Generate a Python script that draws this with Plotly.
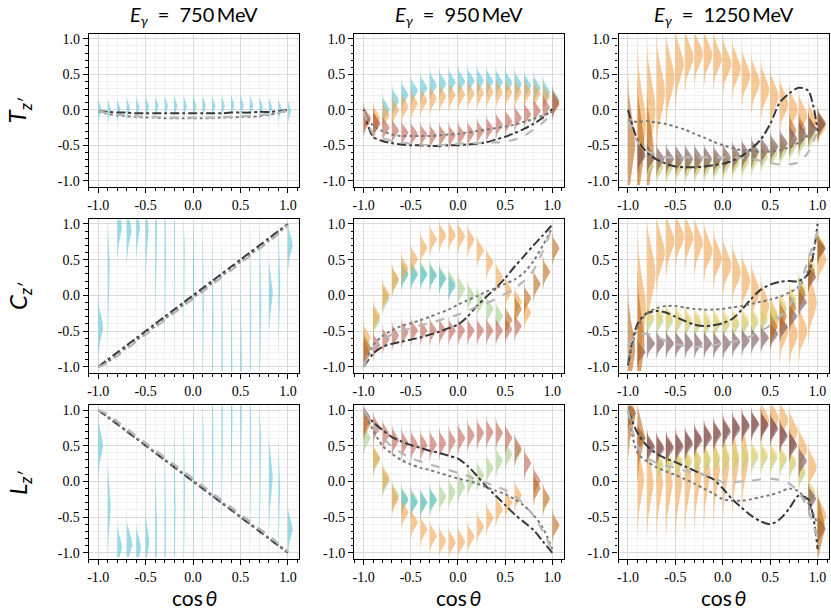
import numpy as np
import plotly.graph_objects as go

# ---------------- data ----------------
COS_THETA = [-1.0, -0.9, -0.8, -0.7, -0.6, -0.5, -0.4, -0.3, -0.2, -0.1, 0.0,
             0.1, 0.2, 0.3, 0.4, 0.5, 0.6, 0.7, 0.8, 0.9, 1.0]
TICK_VALS = [-1.0, -0.5, 0.0, 0.5, 1.0]
TICK_TEXT = ["-1.0", "-0.5", "0.0", "0.5", "1.0"]
ENERGIES = ["750", "950", "1250"]
OBSERVABLES = ["T", "C", "L"]
N = None

# ---- T_z' ----
T750_CYAN = [0.0, -0.01, 0.0, 0.02, 0.03, 0.04, 0.05, 0.05, 0.05, 0.05, 0.05, 0.05, 0.05, 0.05, 0.06, 0.06, 0.05, 0.04, 0.02, 0.0, -0.02]
T750_DASHDOT = [-0.02, -0.03, -0.04, -0.04, -0.05, -0.05, -0.05, -0.05, -0.05, -0.05, -0.05, -0.05, -0.05, -0.05, -0.04, -0.04, -0.04, -0.03, -0.03, -0.02, 0.0]
T750_DOTTED = [-0.02, -0.06, -0.08, -0.09, -0.1, -0.11, -0.11, -0.12, -0.12, -0.12, -0.12, -0.12, -0.12, -0.11, -0.11, -0.1, -0.1, -0.09, -0.07, -0.05, -0.01]
T750_DASHED = [-0.02, -0.05, -0.07, -0.08, -0.09, -0.1, -0.1, -0.11, -0.11, -0.11, -0.11, -0.11, -0.11, -0.1, -0.1, -0.09, -0.09, -0.08, -0.06, -0.04, -0.01]

T950_CYAN = [N, N, 0.0, 0.12, 0.2, 0.26, 0.3, 0.34, 0.36, 0.38, 0.39, 0.4, 0.4, 0.39, 0.38, 0.37, 0.35, 0.33, 0.3, 0.24, 0.12]
T950_ORANGE = [N, -0.12, -0.08, -0.01, 0.04, 0.08, 0.12, 0.15, 0.18, 0.2, 0.21, 0.22, 0.23, 0.24, 0.24, 0.24, 0.24, 0.24, 0.22, 0.18, N]
T950_DARKORANGE = [-0.15, -0.2, N, N, N, N, N, N, N, N, N, N, N, N, N, N, N, N, N, N, 0.1]
T950_RED = [-0.12, -0.2, -0.26, -0.3, -0.33, -0.35, -0.36, -0.37, -0.37, -0.37, -0.36, -0.34, -0.31, -0.27, -0.22, -0.17, -0.12, -0.07, -0.02, 0.03, 0.07]
T950_DASHDOT = [0.0, -0.38, -0.44, -0.47, -0.49, -0.5, -0.5, -0.51, -0.51, -0.5, -0.5, -0.49, -0.48, -0.46, -0.42, -0.38, -0.33, -0.27, -0.2, -0.11, 0.01]
T950_DOTTED = [-0.05, -0.22, -0.3, -0.35, -0.37, -0.37, -0.37, -0.37, -0.36, -0.35, -0.34, -0.32, -0.3, -0.28, -0.26, -0.24, -0.21, -0.17, -0.13, -0.08, -0.03]
T950_DASHED = [-0.02, -0.33, -0.4, -0.44, -0.46, -0.48, -0.49, -0.5, -0.5, -0.49, -0.48, -0.47, -0.47, -0.46, -0.46, -0.45, -0.42, -0.37, -0.28, -0.18, -0.05]

T1250_ORANGE = [N, -0.2, 0.0, 0.25, 0.45, 0.63, 0.74, 0.78, 0.77, 0.72, 0.65, 0.58, 0.48, 0.38, 0.28, 0.18, 0.08, 0.0, -0.08, -0.15, -0.22]
T1250_ORANGE_SPREAD = [0.4, 0.4, 0.35, 0.3, 0.25, 0.2, 0.17, 0.15, 0.15, 0.15, 0.15, 0.15, 0.15, 0.15, 0.15, 0.15, 0.14, 0.13, 0.12, 0.1, 0.1]
T1250_DARKORANGE = [-0.5, -0.55, -0.6, N, N, N, N, N, N, N, N, N, N, N, N, N, N, -0.3, -0.28, -0.25, -0.22]
T1250_DARKORANGE_SPREAD = [0.35, 0.35, 0.3, 0.1, 0.1, 0.1, 0.1, 0.1, 0.1, 0.1, 0.1, 0.1, 0.1, 0.1, 0.1, 0.1, 0.1, 0.09, 0.09, 0.08, 0.08]
T1250_PURPLE = [N, -0.65, -0.68, -0.7, -0.7, -0.7, -0.7, -0.7, -0.7, -0.7, -0.68, -0.66, -0.63, -0.6, -0.57, -0.53, -0.48, -0.42, -0.36, -0.28, -0.2]
T1250_YELLOW = [N, N, -0.75, -0.78, -0.78, -0.78, -0.78, -0.78, -0.77, -0.76, -0.74, -0.72, -0.7, -0.67, -0.63, -0.59, -0.54, -0.48, -0.42, -0.34, N]
T1250_GREEN = [N, N, -0.8, -0.82, -0.82, -0.82, -0.82, -0.82, -0.81, -0.8, -0.78, -0.76, -0.74, -0.71, -0.67, -0.63, -0.58, -0.52, -0.46, -0.38, N]
T1250_DASHDOT = [0.0, -0.42, -0.6, -0.7, -0.76, -0.8, -0.81, -0.81, -0.8, -0.78, -0.76, -0.72, -0.65, -0.55, -0.42, -0.2, 0.1, 0.23, 0.31, 0.27, -0.3]
T1250_DOTTED = [-0.15, -0.17, -0.16, -0.18, -0.2, -0.24, -0.28, -0.34, -0.39, -0.45, -0.5, -0.54, -0.57, -0.58, -0.59, -0.59, -0.57, -0.53, -0.46, -0.36, -0.22]
T1250_DASHED = [-0.15, -0.45, -0.58, -0.64, -0.67, -0.67, -0.67, -0.67, -0.67, -0.67, -0.67, -0.67, -0.68, -0.69, -0.72, -0.75, -0.77, -0.77, -0.74, -0.6, -0.3]

# ---- C_z' ----
C750_CYAN = [-0.45, 0.35, 0.95, 0.9, 0.95, 0.9, 0.85, 0.7, 0.5, 0.3, 0.0, -0.3, -0.5, -0.8, -0.9, -0.95, -0.5, -0.3, 0.02, 0.1, 0.7]
C750_CYAN_SPREAD = [0.15, 0.35, 0.15, 0.15, 0.15, 0.2, 0.4, 0.5, 0.5, 0.5, 0.5, 0.5, 0.5, 0.5, 0.4, 0.4, 0.5, 0.5, 0.2, 0.3, 0.12]
C750_CYAN_PEAK = [0.05, 0.02, 0.05, 0.05, 0.04, 0.03, 0.02, 0.015, 0.015, 0.015, 0.015, 0.015, 0.015, 0.015, 0.015, 0.015, 0.015, 0.02, 0.04, 0.02, 0.05]
C750_DASHDOT = [-1.0, -0.9, -0.8, -0.7, -0.6, -0.5, -0.4, -0.3, -0.2, -0.1, 0.0, 0.1, 0.2, 0.3, 0.4, 0.5, 0.6, 0.7, 0.8, 0.9, 1.0]
C750_DOTTED = [-1.0, -0.93, -0.83, -0.73, -0.63, -0.53, -0.43, -0.33, -0.23, -0.13, -0.03, 0.07, 0.17, 0.27, 0.37, 0.47, 0.57, 0.67, 0.77, 0.88, 0.99]
C750_DASHED = [-1.0, -0.95, -0.85, -0.75, -0.65, -0.55, -0.45, -0.35, -0.25, -0.15, -0.05, 0.05, 0.15, 0.25, 0.35, 0.45, 0.55, 0.65, 0.75, 0.86, 0.98]

C950_ORANGE = [-0.6, -0.3, 0.0, 0.22, 0.37, 0.5, 0.66, 0.78, 0.83, 0.84, 0.82, 0.77, 0.62, 0.45, 0.25, 0.05, -0.1, -0.25, N, N, N]
C950_GREEN = [-0.7, -0.35, -0.05, 0.2, 0.3, 0.3, 0.3, 0.28, 0.24, 0.17, 0.08, -0.01, -0.1, -0.2, -0.3, N, N, N, N, N, N]
C950_CYAN = [N, N, N, N, 0.28, 0.28, 0.28, 0.27, 0.22, 0.12, N, N, N, N, N, N, N, N, N, N, N]
C950_RED = [-0.82, -0.7, -0.62, -0.57, -0.53, -0.5, -0.5, -0.5, -0.5, -0.5, -0.5, -0.5, -0.5, -0.5, -0.5, -0.48, -0.44, N, N, N, N]
C950_DARKORANGE = [-0.75, N, N, N, N, N, N, N, N, N, N, N, N, N, N, -0.35, -0.2, -0.05, 0.15, 0.32, 0.65]
C950_DASHDOT = [-1.0, -0.82, -0.72, -0.68, -0.65, -0.62, -0.59, -0.55, -0.51, -0.46, -0.41, -0.3, -0.15, -0.02, 0.1, 0.24, 0.4, 0.55, 0.7, 0.84, 0.99]
C950_DOTTED = [-1.0, -0.7, -0.57, -0.49, -0.43, -0.39, -0.35, -0.3, -0.25, -0.2, -0.13, -0.07, -0.01, 0.05, 0.1, 0.16, 0.22, 0.32, 0.48, 0.7, 0.95]
C950_DASHED = [-1.0, -0.74, -0.62, -0.55, -0.5, -0.46, -0.42, -0.39, -0.35, -0.31, -0.27, -0.22, -0.16, -0.11, -0.05, 0.02, 0.1, 0.2, 0.35, 0.62, 0.95]

C1250_ORANGE = [N, -0.2, 0.3, 0.6, 0.75, 0.82, 0.8, 0.72, 0.62, 0.52, 0.42, 0.32, 0.2, 0.05, -0.15, -0.35, -0.5, -0.55, -0.5, -0.1, 0.5]
C1250_ORANGE_SPREAD = [0.4, 0.4, 0.3, 0.2, 0.17, 0.15, 0.15, 0.15, 0.15, 0.15, 0.15, 0.15, 0.15, 0.15, 0.15, 0.15, 0.15, 0.15, 0.15, 0.2, 0.12]
C1250_YELLOW = [N, N, -0.3, -0.3, -0.32, -0.33, -0.35, -0.36, -0.37, -0.37, -0.37, -0.37, -0.36, -0.34, -0.3, -0.25, -0.15, -0.05, 0.1, 0.4, 0.7]
C1250_GREEN = [N, N, -0.35, -0.36, -0.37, -0.38, -0.4, -0.41, -0.42, -0.42, -0.42, -0.42, -0.41, -0.39, -0.35, -0.3, -0.2, -0.1, 0.05, 0.35, 0.68]
C1250_PURPLE = [N, -0.8, -0.68, -0.68, -0.68, -0.68, -0.68, -0.68, -0.68, -0.68, -0.68, -0.66, -0.64, -0.62, -0.6, -0.55, -0.45, -0.3, -0.1, 0.25, 0.65]
C1250_DARKORANGE = [-0.75, -0.65, N, N, N, N, N, N, N, N, N, N, N, N, N, -0.45, -0.3, -0.18, 0.0, 0.3, 0.65]
C1250_DARKORANGE_SPREAD = [0.3, 0.35, 0.1, 0.1, 0.1, 0.1, 0.1, 0.1, 0.1, 0.1, 0.1, 0.1, 0.1, 0.1, 0.1, 0.09, 0.09, 0.09, 0.09, 0.09, 0.08]
C1250_DASHDOT = [-0.98, -0.4, -0.25, -0.22, -0.24, -0.3, -0.36, -0.41, -0.43, -0.42, -0.39, -0.33, -0.2, -0.05, 0.08, 0.15, 0.19, 0.2, 0.2, 0.3, 1.0]
C1250_DOTTED = [-0.96, -0.45, -0.25, -0.18, -0.15, -0.15, -0.17, -0.19, -0.2, -0.2, -0.19, -0.17, -0.15, -0.12, -0.09, -0.06, -0.02, 0.04, 0.12, 0.35, 0.9]
C1250_DASHED = [-0.7, -0.56, -0.54, -0.58, -0.64, -0.68, -0.71, -0.72, -0.72, -0.7, -0.67, -0.65, -0.62, -0.57, -0.5, -0.42, -0.3, -0.15, 0.1, 0.5, 0.9]

# ---- L_z' ----
L750_CYAN = [0.5, -0.35, -0.92, -0.88, -0.93, -0.85, -0.8, -0.7, -0.5, -0.3, 0.0, 0.3, 0.5, 0.8, 0.9, 0.95, 0.5, 0.3, 0.03, -0.25, -0.67]
L750_CYAN_SPREAD = [0.15, 0.25, 0.12, 0.13, 0.12, 0.15, 0.4, 0.5, 0.5, 0.5, 0.5, 0.5, 0.5, 0.5, 0.4, 0.4, 0.5, 0.5, 0.25, 0.3, 0.12]
L750_CYAN_PEAK = [0.05, 0.03, 0.05, 0.06, 0.05, 0.04, 0.02, 0.015, 0.015, 0.015, 0.015, 0.015, 0.015, 0.015, 0.015, 0.015, 0.015, 0.02, 0.04, 0.02, 0.05]
L750_DASHDOT = [1.0, 0.9, 0.8, 0.7, 0.6, 0.5, 0.4, 0.3, 0.2, 0.1, 0.0, -0.1, -0.2, -0.3, -0.4, -0.5, -0.6, -0.7, -0.8, -0.9, -1.0]
L750_DOTTED = [1.0, 0.91, 0.81, 0.71, 0.61, 0.51, 0.41, 0.31, 0.21, 0.11, 0.01, -0.09, -0.19, -0.29, -0.39, -0.49, -0.59, -0.69, -0.79, -0.89, -0.99]
L750_DASHED = [1.0, 0.94, 0.84, 0.74, 0.64, 0.54, 0.44, 0.34, 0.24, 0.14, 0.04, -0.06, -0.16, -0.26, -0.36, -0.46, -0.56, -0.66, -0.76, -0.87, -0.98]

L950_RED = [0.87, 0.75, 0.65, 0.57, 0.53, 0.51, 0.5, 0.51, 0.53, 0.56, 0.6, 0.64, 0.67, 0.68, 0.67, 0.6, 0.45, 0.25, 0.0, N, N]
L950_DARKORANGE = [0.8, N, N, N, N, N, N, N, N, N, N, N, N, N, N, N, N, N, -0.1, -0.25, -0.62]
L950_ORANGE = [N, 0.32, 0.04, -0.25, -0.44, -0.58, -0.68, -0.77, -0.84, -0.86, -0.85, -0.78, -0.64, -0.52, -0.4, -0.3, -0.2, N, N, N, N]
L950_GREEN = [0.6, 0.3, 0.0, -0.2, -0.25, -0.28, -0.3, -0.27, -0.22, -0.16, -0.08, 0.0, 0.08, 0.18, 0.28, 0.37, 0.42, N, N, N, N]
L950_CYAN = [N, N, N, N, -0.27, -0.3, -0.3, -0.26, N, N, N, N, N, N, N, N, N, N, N, N, N]
L950_DASHDOT = [1.0, 0.83, 0.72, 0.62, 0.56, 0.51, 0.47, 0.43, 0.4, 0.36, 0.32, 0.22, 0.08, -0.07, -0.2, -0.33, -0.46, -0.57, -0.68, -0.84, -1.0]
L950_DOTTED = [1.0, 0.72, 0.5, 0.39, 0.3, 0.24, 0.19, 0.16, 0.12, 0.08, 0.04, 0.01, -0.03, -0.08, -0.13, -0.18, -0.25, -0.34, -0.47, -0.65, -0.95]
L950_DASHED = [1.0, 0.8, 0.62, 0.49, 0.4, 0.33, 0.28, 0.24, 0.2, 0.16, 0.12, 0.08, 0.03, -0.02, -0.07, -0.12, -0.2, -0.32, -0.48, -0.7, -0.97]

L1250_PURPLE = [0.95, 0.6, 0.47, 0.45, 0.46, 0.48, 0.52, 0.57, 0.61, 0.65, 0.69, 0.73, 0.77, 0.79, 0.78, 0.73, 0.63, 0.5, 0.28, -0.25, -0.67]
L1250_RED = [N, N, 0.5, 0.48, 0.49, 0.51, 0.55, 0.6, 0.64, 0.68, 0.72, 0.76, 0.79, 0.81, 0.8, 0.75, 0.65, 0.52, N, N, N]
L1250_ORANGE_HI = [N, N, N, N, N, N, N, N, N, N, N, N, N, N, 0.85, 0.88, 0.85, 0.7, 0.45, 0.2, -0.48]
L1250_ORANGE_LO = [N, 0.0, -0.05, -0.05, -0.05, -0.05, 0.0, 0.05, 0.1, 0.15, 0.2, 0.25, 0.3, N, N, N, N, N, N, N, N]
L1250_YELLOW = [N, N, N, 0.25, 0.27, 0.29, 0.3, 0.32, 0.33, 0.34, 0.35, 0.36, 0.37, 0.37, 0.37, 0.36, 0.33, 0.28, 0.15, -0.15, -0.55]
L1250_GREEN = [N, N, N, 0.21, 0.23, 0.25, 0.26, 0.28, 0.29, 0.3, 0.31, 0.32, 0.33, 0.33, 0.33, 0.32, 0.29, 0.24, 0.11, -0.19, -0.6]
L1250_DARKORANGE = [0.9, 0.6, N, N, N, N, N, N, N, N, N, N, N, N, N, N, N, N, N, N, -0.65]
L1250_DASHDOT = [1.0, 0.68, 0.5, 0.39, 0.32, 0.27, 0.21, 0.15, 0.09, 0.03, -0.1, -0.25, -0.37, -0.48, -0.56, -0.6, -0.53, -0.38, -0.2, -0.25, -0.95]
L1250_DOTTED = [1.0, 0.4, 0.28, 0.2, 0.14, 0.09, 0.03, -0.03, -0.1, -0.17, -0.25, -0.27, -0.27, -0.25, -0.22, -0.19, -0.15, -0.1, -0.14, -0.3, -0.6]
L1250_DASHED = [1.0, 0.5, 0.33, 0.26, 0.22, 0.19, 0.15, 0.12, 0.1, 0.05, -0.01, -0.01, 0.0, 0.01, 0.03, 0.04, 0.02, -0.03, -0.15, -0.4, -0.8]

# ---------------- styling ----------------
COLORS = {
    "cyan": "rgba(88,196,216,0.6)",
    "orange": "rgba(240,165,80,0.6)",
    "darkorange": "rgba(190,105,25,0.6)",
    "red": "rgba(190,100,85,0.6)",
    "purple": "rgba(115,80,85,0.6)",
    "yellow": "rgba(242,212,115,0.6)",
    "green": "rgba(160,200,130,0.55)",
}
DEFAULT_PEAK = 0.075

PANELS = {
    (0, 0): [("cyan", T750_CYAN, 0.06, 0.035)],
    (0, 1): [("cyan", T950_CYAN, 0.08, None), ("orange", T950_ORANGE, 0.08, None),
             ("darkorange", T950_DARKORANGE, 0.08, None), ("red", T950_RED, 0.07, None)],
    (0, 2): [("orange", T1250_ORANGE, T1250_ORANGE_SPREAD, 0.09),
             ("darkorange", T1250_DARKORANGE, T1250_DARKORANGE_SPREAD, None),
             ("green", T1250_GREEN, 0.08, None), ("yellow", T1250_YELLOW, 0.08, None),
             ("purple", T1250_PURPLE, 0.08, 0.085)],
    (1, 0): [("cyan", C750_CYAN, C750_CYAN_SPREAD, C750_CYAN_PEAK)],
    (1, 1): [("green", C950_GREEN, 0.08, None), ("cyan", C950_CYAN, 0.07, None),
             ("orange", C950_ORANGE, 0.08, None), ("red", C950_RED, 0.07, None),
             ("darkorange", C950_DARKORANGE, 0.08, None)],
    (1, 2): [("orange", C1250_ORANGE, C1250_ORANGE_SPREAD, 0.09),
             ("green", C1250_GREEN, 0.08, None), ("yellow", C1250_YELLOW, 0.08, None),
             ("purple", C1250_PURPLE, 0.07, 0.085),
             ("darkorange", C1250_DARKORANGE, C1250_DARKORANGE_SPREAD, None)],
    (2, 0): [("cyan", L750_CYAN, L750_CYAN_SPREAD, L750_CYAN_PEAK)],
    (2, 1): [("green", L950_GREEN, 0.08, None), ("cyan", L950_CYAN, 0.07, None),
             ("orange", L950_ORANGE, 0.08, None), ("red", L950_RED, 0.08, None),
             ("darkorange", L950_DARKORANGE, 0.08, None)],
    (2, 2): [("orange", L1250_ORANGE_LO, 0.25, 0.07), ("orange", L1250_ORANGE_HI, 0.12, 0.09),
             ("green", L1250_GREEN, 0.08, None), ("yellow", L1250_YELLOW, 0.08, None),
             ("red", L1250_RED, 0.08, None), ("purple", L1250_PURPLE, 0.08, 0.085),
             ("darkorange", L1250_DARKORANGE, 0.2, None)],
}
LINES = {
    (0, 0): (T750_DASHDOT, T750_DOTTED, T750_DASHED),
    (0, 1): (T950_DASHDOT, T950_DOTTED, T950_DASHED),
    (0, 2): (T1250_DASHDOT, T1250_DOTTED, T1250_DASHED),
    (1, 0): (C750_DASHDOT, C750_DOTTED, C750_DASHED),
    (1, 1): (C950_DASHDOT, C950_DOTTED, C950_DASHED),
    (1, 2): (C1250_DASHDOT, C1250_DOTTED, C1250_DASHED),
    (2, 0): (L750_DASHDOT, L750_DOTTED, L750_DASHED),
    (2, 1): (L950_DASHDOT, L950_DOTTED, L950_DASHED),
    (2, 2): (L1250_DASHDOT, L1250_DOTTED, L1250_DASHED),
}
LINE_STYLES = [("#383838", "dashdot", 2.0), ("#7a7a7a", "dot", 2.0), ("#b8b8b8", "dash", 2.2)]

W, H = 831, 609
PX_COLS = [(87, 298), (353, 563), (618, 829)]
PX_ROWS = [(32, 186), (218, 373), (405, 560)]
X_DOMAINS = [[a / W, b / W] for a, b in PX_COLS]
Y_DOMAINS = [[1 - b / H, 1 - a / H] for a, b in PX_ROWS]


def as_list(v, n):
    return list(v) if isinstance(v, (list, tuple)) else [v] * n


def violin_path(xs, means, spread, peak):
    n = len(xs)
    sp = as_list(spread, n)
    pk = as_list(DEFAULT_PEAK if peak is None else peak, n)
    px, py = [], []
    for x0, mu, s, w in zip(xs, means, sp, pk):
        if mu is None:
            continue
        y = np.linspace(max(mu - 3 * s, -1.06), min(mu + 3 * s, 1.06), 45)
        prof = x0 + w * np.exp(-0.5 * ((y - mu) / s) ** 2)
        px += [x0] + list(prof) + [x0, None]
        py += [float(y[0])] + list(y) + [float(y[-1]), None]
    return px, py


TICKFONT = dict(family="Liberation Serif", size=14, color="black")
THIN = "\u2009"

fig = go.Figure()
layout = {}
for r in range(3):
    for c in range(3):
        idx = r * 3 + c + 1
        sfx = "" if idx == 1 else str(idx)
        xref, yref = "x" + sfx, "y" + sfx
        for col, means, spread, peak in PANELS[(r, c)]:
            px, py = violin_path(COS_THETA, means, spread, peak)
            fig.add_trace(go.Scatter(x=px, y=py, mode="lines", fill="toself",
                                     fillcolor=COLORS[col], line=dict(width=0),
                                     hoverinfo="skip", showlegend=False,
                                     xaxis=xref, yaxis=yref))
        for vals, (lc, dash, lw) in zip(LINES[(r, c)], LINE_STYLES):
            fig.add_trace(go.Scatter(x=COS_THETA, y=vals, mode="lines",
                                     line=dict(color=lc, dash=dash, width=lw, shape="spline", smoothing=0.8),
                                     showlegend=False, xaxis=xref, yaxis=yref))
        common = dict(tickmode="array", tickvals=TICK_VALS, ticktext=TICK_TEXT, ticks="outside",
                      ticklen=5, tickwidth=1, tickcolor="black", showline=True, linecolor="black",
                      linewidth=1.2, mirror=True, showgrid=True, gridcolor="#dadada",
                      gridwidth=1, zeroline=False,
                      minor=dict(ticks="outside", ticklen=2.5, tickcolor="black", tick0=0,
                                 dtick=0.1, showgrid=True, gridcolor="#f1f1f1", gridwidth=1),
                      tickfont=TICKFONT)
        layout["xaxis" + sfx] = dict(domain=X_DOMAINS[c], anchor=yref, range=[-1.1, 1.12], **common)
        layout["yaxis" + sfx] = dict(domain=Y_DOMAINS[r], anchor=xref, range=[-1.09, 1.07], **common)

annotations = []
for c, e in enumerate(ENERGIES):
    xc = sum(X_DOMAINS[c]) / 2
    annotations.append(dict(text=f"<i>E</i><sub><i>γ</i></sub>\u2002=\u2002{e}{THIN}MeV",
                            x=xc, y=1 - 14 / H, xref="paper", yref="paper", showarrow=False,
                            xanchor="center", yanchor="middle",
                            font=dict(family="Lato", size=20, color="black")))
    annotations.append(dict(text=f"cos{THIN}<i>θ</i>", x=xc, y=1 - 598 / H, xref="paper", yref="paper",
                            showarrow=False, xanchor="center", yanchor="middle",
                            font=dict(family="Lato", size=21, color="black")))
for r, o in enumerate(OBSERVABLES):
    yc = sum(Y_DOMAINS[r]) / 2
    annotations.append(dict(text=f"<i>{o}</i><sub><i>z′</i></sub>", x=17 / W, y=yc,
                            xref="paper", yref="paper", showarrow=False, textangle=-90,
                            xanchor="center", yanchor="middle",
                            font=dict(family="Lato", size=24, color="black")))

fig.update_layout(width=W, height=H, margin=dict(l=0, r=0, t=0, b=0),
                  plot_bgcolor="white", paper_bgcolor="white",
                  font=dict(family="Liberation Serif", size=14, color="black"),
                  annotations=annotations, showlegend=False, **layout)
fig.update_xaxes(tickfont=TICKFONT)
fig.update_yaxes(tickfont=TICKFONT)
fig.write_html("out.html", config={"displayModeBar": False},
               post_script="document.body.style.margin='0';document.body.style.overflow='hidden';")
